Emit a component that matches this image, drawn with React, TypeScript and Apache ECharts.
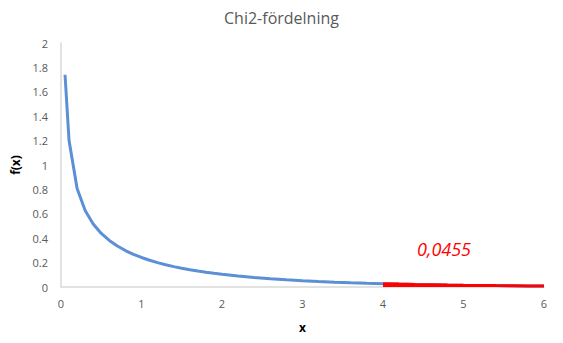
import React, { useEffect, useRef } from "react";
import * as echarts from "echarts";

const xValues = [0.05, 0.1, 0.2, 0.3, 0.4, 0.5, 0.6, 0.7, 0.8, 0.9, 1.0, 1.1, 1.2, 1.3, 1.4, 1.5, 1.6, 1.7, 1.8, 1.9, 2.0, 2.2, 2.4, 2.6, 2.8, 3.0, 3.2, 3.4, 3.6, 3.8, 4.0, 4.2, 4.4, 4.6, 4.8, 5.0, 5.2, 5.4, 5.6, 5.8, 6.0];
const fValues = [1.74, 1.2, 0.807, 0.627, 0.516, 0.439, 0.382, 0.336, 0.299, 0.268, 0.242, 0.219, 0.2, 0.183, 0.167, 0.154, 0.142, 0.131, 0.121, 0.112, 0.104, 0.0895, 0.0776, 0.0674, 0.0588, 0.0514, 0.045, 0.0395, 0.0348, 0.0306, 0.027, 0.0238, 0.0211, 0.0187, 0.0165, 0.0146, 0.013, 0.0115, 0.0103, 0.0091, 0.0081];
const tailStart = 4;
const tailLabel = "0,0455";
const titleText = "Chi2-fördelning";

export default function App() {
  const ref = useRef<HTMLDivElement>(null);
  useEffect(() => {
    if (!ref.current) return;
    const chart = echarts.init(ref.current, null, { renderer: "svg" });
    const curve = xValues.map((x, i) => [x, fValues[i]]);
    const tail = curve.filter((p) => p[0] >= tailStart);
    const font = "'Open Sans', 'Noto Sans', sans-serif";
    chart.setOption({
      animation: false,
      backgroundColor: "#ffffff",
      title: {
        text: titleText,
        left: "center",
        top: 5,
        textStyle: { color: "#595959", fontSize: 16, fontWeight: "normal", fontFamily: font },
      },
      grid: { left: 61, right: 19, top: 43, bottom: 56 },
      xAxis: {
        type: "value",
        min: 0,
        max: 6,
        interval: 1,
        name: "x",
        nameLocation: "middle",
        nameGap: 34,
        nameTextStyle: { color: "#000", fontWeight: "bold", fontSize: 12, fontFamily: font },
        axisLine: { show: true, lineStyle: { color: "#D9D9D9", width: 1.5 } },
        axisTick: { show: false },
        splitLine: { show: false },
        axisLabel: { color: "#595959", fontSize: 11, margin: 11, fontFamily: font },
      },
      yAxis: {
        type: "value",
        min: 0,
        max: 2,
        interval: 0.2,
        name: "f(x)",
        nameLocation: "middle",
        nameGap: 37,
        nameTextStyle: { color: "#000", fontWeight: "bold", fontSize: 12, fontFamily: font },
        axisLine: { show: true, lineStyle: { color: "#D9D9D9", width: 1.5 } },
        axisTick: { show: false },
        splitLine: { show: false },
        axisLabel: {
          color: "#595959",
          fontSize: 11,
          margin: 13,
          fontFamily: font,
          formatter: (v: number) => String(Math.round(v * 10) / 10),
        },
      },
      graphic: [
        {
          type: "text",
          left: 417,
          top: 240,
          style: {
            text: tailLabel,
            fill: "#FF0000",
            fontSize: 18,
            fontStyle: "italic",
            fontFamily: font,
          },
        },
      ],
      series: [
        {
          type: "line",
          data: curve,
          showSymbol: false,
          smooth: false,
          lineStyle: { color: "#5B8FD6", width: 3 },
          z: 2,
        },
        {
          type: "line",
          data: tail,
          showSymbol: false,
          lineStyle: { color: "#FF0000", width: 3 },
          areaStyle: { color: "#FF0000", opacity: 1 },
          z: 3,
        },
      ],
    });
    return () => chart.dispose();
  }, []);
  return <div ref={ref} style={{ width: 563, height: 343, marginLeft: -8, marginTop: -8 }} />;
}
